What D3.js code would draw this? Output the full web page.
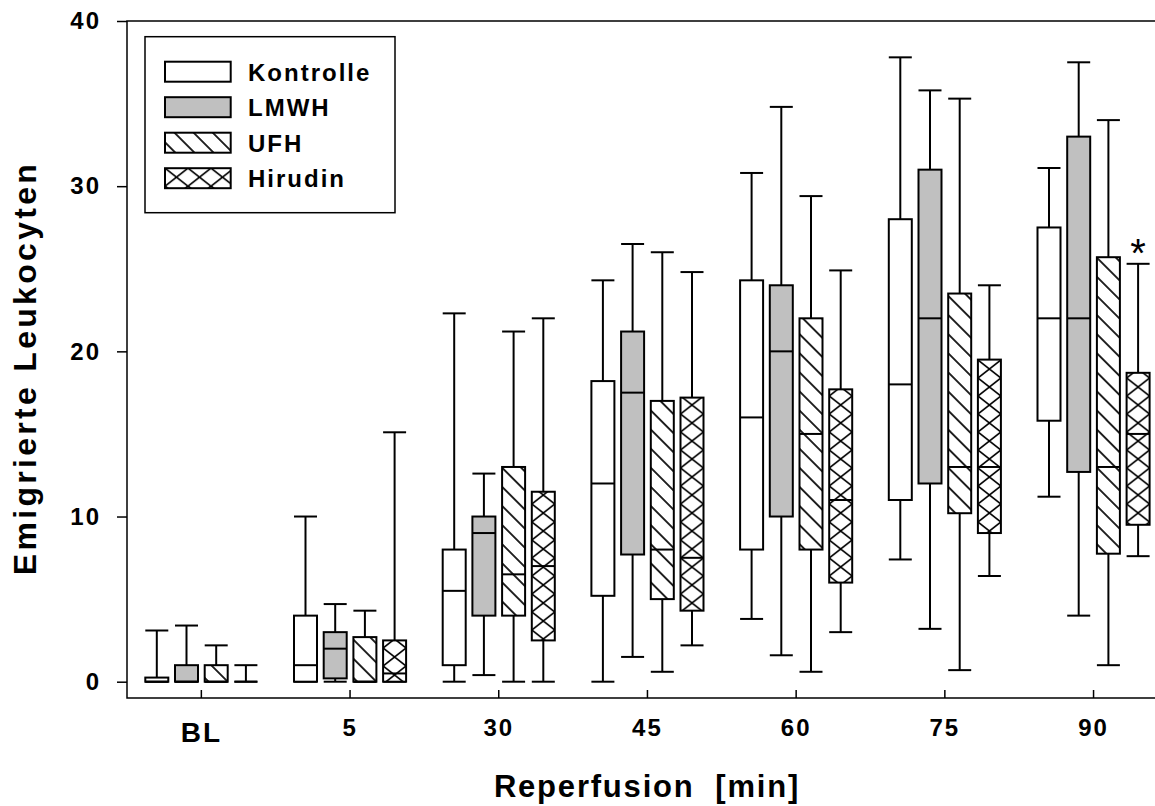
<!DOCTYPE html>
<html>
<head>
<meta charset="utf-8">
<script src="https://cdn.jsdelivr.net/npm/d3@7"></script>
<style>
    body { margin: 0; background: #fff; }
    text { font-family: "Liberation Sans", Arial, sans-serif; font-weight: bold; fill: #000; }
</style>
</head>
<body>
<svg id="chart"></svg>
<script>
let categories = ["BL", "5", "30", "45", "60", "75", "90"];
let groups = ["Kontrolle", "LMWH", "UFH", "Hirudin"];
let yTicks = [0, 10, 20, 30, 40];

// [min, q1, median, q3, max] for each time point
let kontrolle = [
    [0, 0, 0, 0.25, 3.1],
    [0, 0, 1, 4, 10],
    [0, 1, 5.5, 8, 22.3],
    [0, 5.2, 12, 18.2, 24.3],
    [3.8, 8, 16, 24.3, 30.8],
    [7.4, 11, 18, 28, 37.8],
    [11.2, 15.8, 22, 27.5, 31.1]
];
let lmwh = [
    [0, 0, 0, 1, 3.4],
    [0, 0.2, 2, 3, 4.7],
    [0.4, 4, 9, 10, 12.6],
    [1.5, 7.7, 17.5, 21.2, 26.5],
    [1.6, 10, 20, 24, 34.8],
    [3.2, 12, 22, 31, 35.8],
    [4, 12.7, 22, 33, 37.5]
];
let ufh = [
    [0, 0, 0, 1, 2.2],
    [0, 0, 0, 2.7, 4.3],
    [0, 4, 6.5, 13, 21.2],
    [0.6, 5, 8, 17, 26],
    [0.6, 8, 15, 22, 29.4],
    [0.7, 10.2, 13, 23.5, 35.3],
    [1, 7.75, 13, 25.7, 34]
];
let hirudin = [
    [0, 0, 0, 0, 1],
    [0, 0, 0.5, 2.5, 15.1],
    [0, 2.5, 7, 11.5, 22],
    [2.2, 4.3, 7.5, 17.2, 24.8],
    [3, 6, 11, 17.7, 24.9],
    [6.4, 9, 13, 19.5, 24],
    [7.6, 9.5, 15, 18.7, 25.3]
];
let stats = {Kontrolle: kontrolle, LMWH: lmwh, UFH: ufh, Hirudin: hirudin};
let marked = {group: "Hirudin", category: "90"};   // significance star

let w = 1155, h = 806;
let left = 127, axisY = 698, boxW = 23;

let svg = d3.select("#chart").attr("width", w).attr("height", h);

let x = d3.scaleBand().domain(categories).range([left, left + 7 * 148.7]);
let xs = d3.scaleBand().domain(groups).range([-59.4, 59.4]);
let y = d3.scaleLinear().domain([0, 40]).range([681.7, 21]);

// fill patterns
let defs = svg.append("defs");
let hs = 13.5;
let hatch = defs.append("pattern")
    .attr("id", "hatch")
    .attr("patternUnits", "userSpaceOnUse")
    .attr("width", hs).attr("height", hs)
    .attr("patternTransform", "rotate(-45)");
hatch.append("rect").attr("width", hs).attr("height", hs).attr("fill", "#fff");
hatch.append("line")
    .attr("x1", hs / 2).attr("x2", hs / 2).attr("y1", 0).attr("y2", hs)
    .attr("stroke", "#000").attr("stroke-width", 1.7);

let cross = defs.append("pattern")
    .attr("id", "cross")
    .attr("patternUnits", "userSpaceOnUse")
    .attr("width", boxW).attr("height", 18);
cross.append("rect").attr("width", boxW).attr("height", 18).attr("fill", "#fff");
cross.append("path")
    .attr("d", "M0,0L" + boxW + ",18M" + boxW + ",0L0,18")
    .attr("stroke", "#000").attr("stroke-width", 1.7).attr("fill", "none");

let fill = d3.scaleOrdinal()
    .domain(groups)
    .range(["#fff", "#c0c0c0", "url(#hatch)", "url(#cross)"]);

function boxLeft(gName, i) {
    return x(categories[i]) + x.bandwidth() / 2 + xs(gName) + xs.bandwidth() / 2 - boxW / 2;
}

// boxes
groups.forEach(function (gName) {
    let box = svg.append("g")
        .selectAll("g")
        .data(stats[gName])
        .enter()
        .append("g")
        .attr("transform", function (d, i) {
            return "translate(" + boxLeft(gName, i) + ",0)";
        })
        .attr("stroke", "#000")
        .attr("stroke-width", 2);

    box.append("line")
        .attr("x1", boxW / 2).attr("x2", boxW / 2)
        .attr("y1", function (d) { return y(d[3]); })
        .attr("y2", function (d) { return y(d[4]); });
    box.append("line")
        .attr("x1", boxW / 2).attr("x2", boxW / 2)
        .attr("y1", function (d) { return y(d[1]); })
        .attr("y2", function (d) { return y(d[0]); });
    box.append("line")
        .attr("x1", 0).attr("x2", boxW)
        .attr("y1", function (d) { return y(d[4]); })
        .attr("y2", function (d) { return y(d[4]); });
    box.append("line")
        .attr("x1", 0).attr("x2", boxW)
        .attr("y1", function (d) { return y(d[0]); })
        .attr("y2", function (d) { return y(d[0]); });
    box.append("rect")
        .attr("x", 0)
        .attr("width", boxW)
        .attr("y", function (d) { return y(d[3]); })
        .attr("height", function (d) { return y(d[1]) - y(d[3]); })
        .attr("fill", fill(gName));
    box.append("line")
        .attr("x1", 0).attr("x2", boxW)
        .attr("y1", function (d) { return y(d[2]); })
        .attr("y2", function (d) { return y(d[2]); });
});

// star above marked box
let mi = categories.indexOf(marked.category);
svg.append("text")
    .attr("x", boxLeft(marked.group, mi) + boxW / 2)
    .attr("y", y(stats[marked.group][mi][4]) + 3)
    .attr("text-anchor", "middle")
    .style("font-size", "40px")
    .style("font-weight", "normal")
    .text("*");

// axes
let yAxis = d3.axisLeft(y).tickValues(yTicks).tickSize(10).tickPadding(16);
svg.append("g")
    .attr("transform", "translate(" + left + ",0)")
    .call(yAxis)
    .call(function (g) { g.select(".domain").remove(); })
    .call(function (g) { g.selectAll("line").attr("stroke-width", 1.5); })
    .call(function (g) {
        g.selectAll("text").style("font-size", "24px").style("letter-spacing", "2px");
    });

let xAxis = d3.axisBottom(x).tickSize(-8).tickPadding(21);
svg.append("g")
    .attr("transform", "translate(0," + axisY + ")")
    .call(xAxis)
    .call(function (g) { g.select(".domain").remove(); })
    .call(function (g) { g.selectAll("line").attr("stroke-width", 1.5); })
    .call(function (g) {
        g.selectAll("text").style("font-size", "24px").style("letter-spacing", "2px");
        g.selectAll("text").filter(function (d) { return d === "BL"; })
            .style("font-size", "28px").attr("dy", "0.83em");
    });

svg.append("path")
    .attr("d", "M" + w + ",21H" + left + "V" + axisY + "H" + w)
    .attr("fill", "none")
    .attr("stroke", "#000")
    .attr("stroke-width", 1.5);

// axis titles
svg.append("text")
    .attr("transform", "rotate(-90)")
    .attr("x", -368)
    .attr("y", 36)
    .attr("text-anchor", "middle")
    .style("font-size", "32px")
    .style("letter-spacing", "3.3px")
    .text("Emigrierte Leukocyten");

svg.append("text")
    .attr("x", 647)
    .attr("y", 797)
    .attr("text-anchor", "middle")
    .style("font-size", "31px")
    .style("letter-spacing", "1.8px")
    .style("white-space", "pre")
    .text("Reperfusion  [min]");

// legend
let legend = svg.append("g");
legend.append("rect")
    .attr("x", 145).attr("y", 36.7)
    .attr("width", 250).attr("height", 176)
    .attr("fill", "#fff")
    .attr("stroke", "#000")
    .attr("stroke-width", 1.5);

let rows = legend.selectAll("g.row")
    .data(groups)
    .enter()
    .append("g")
    .attr("class", "row")
    .attr("transform", function (d, i) {
        return "translate(165," + (61.7 + i * 35.5) + ")";
    });
rows.append("rect")
    .attr("width", 65.7)
    .attr("height", 20)
    .attr("fill", function (d) { return fill(d); })
    .attr("stroke", "#000")
    .attr("stroke-width", 2);
rows.append("text")
    .attr("x", 83)
    .attr("y", 19)
    .style("font-size", "24px")
    .style("letter-spacing", "2px")
    .text(function (d) { return d; });
</script>
</body>
</html>
